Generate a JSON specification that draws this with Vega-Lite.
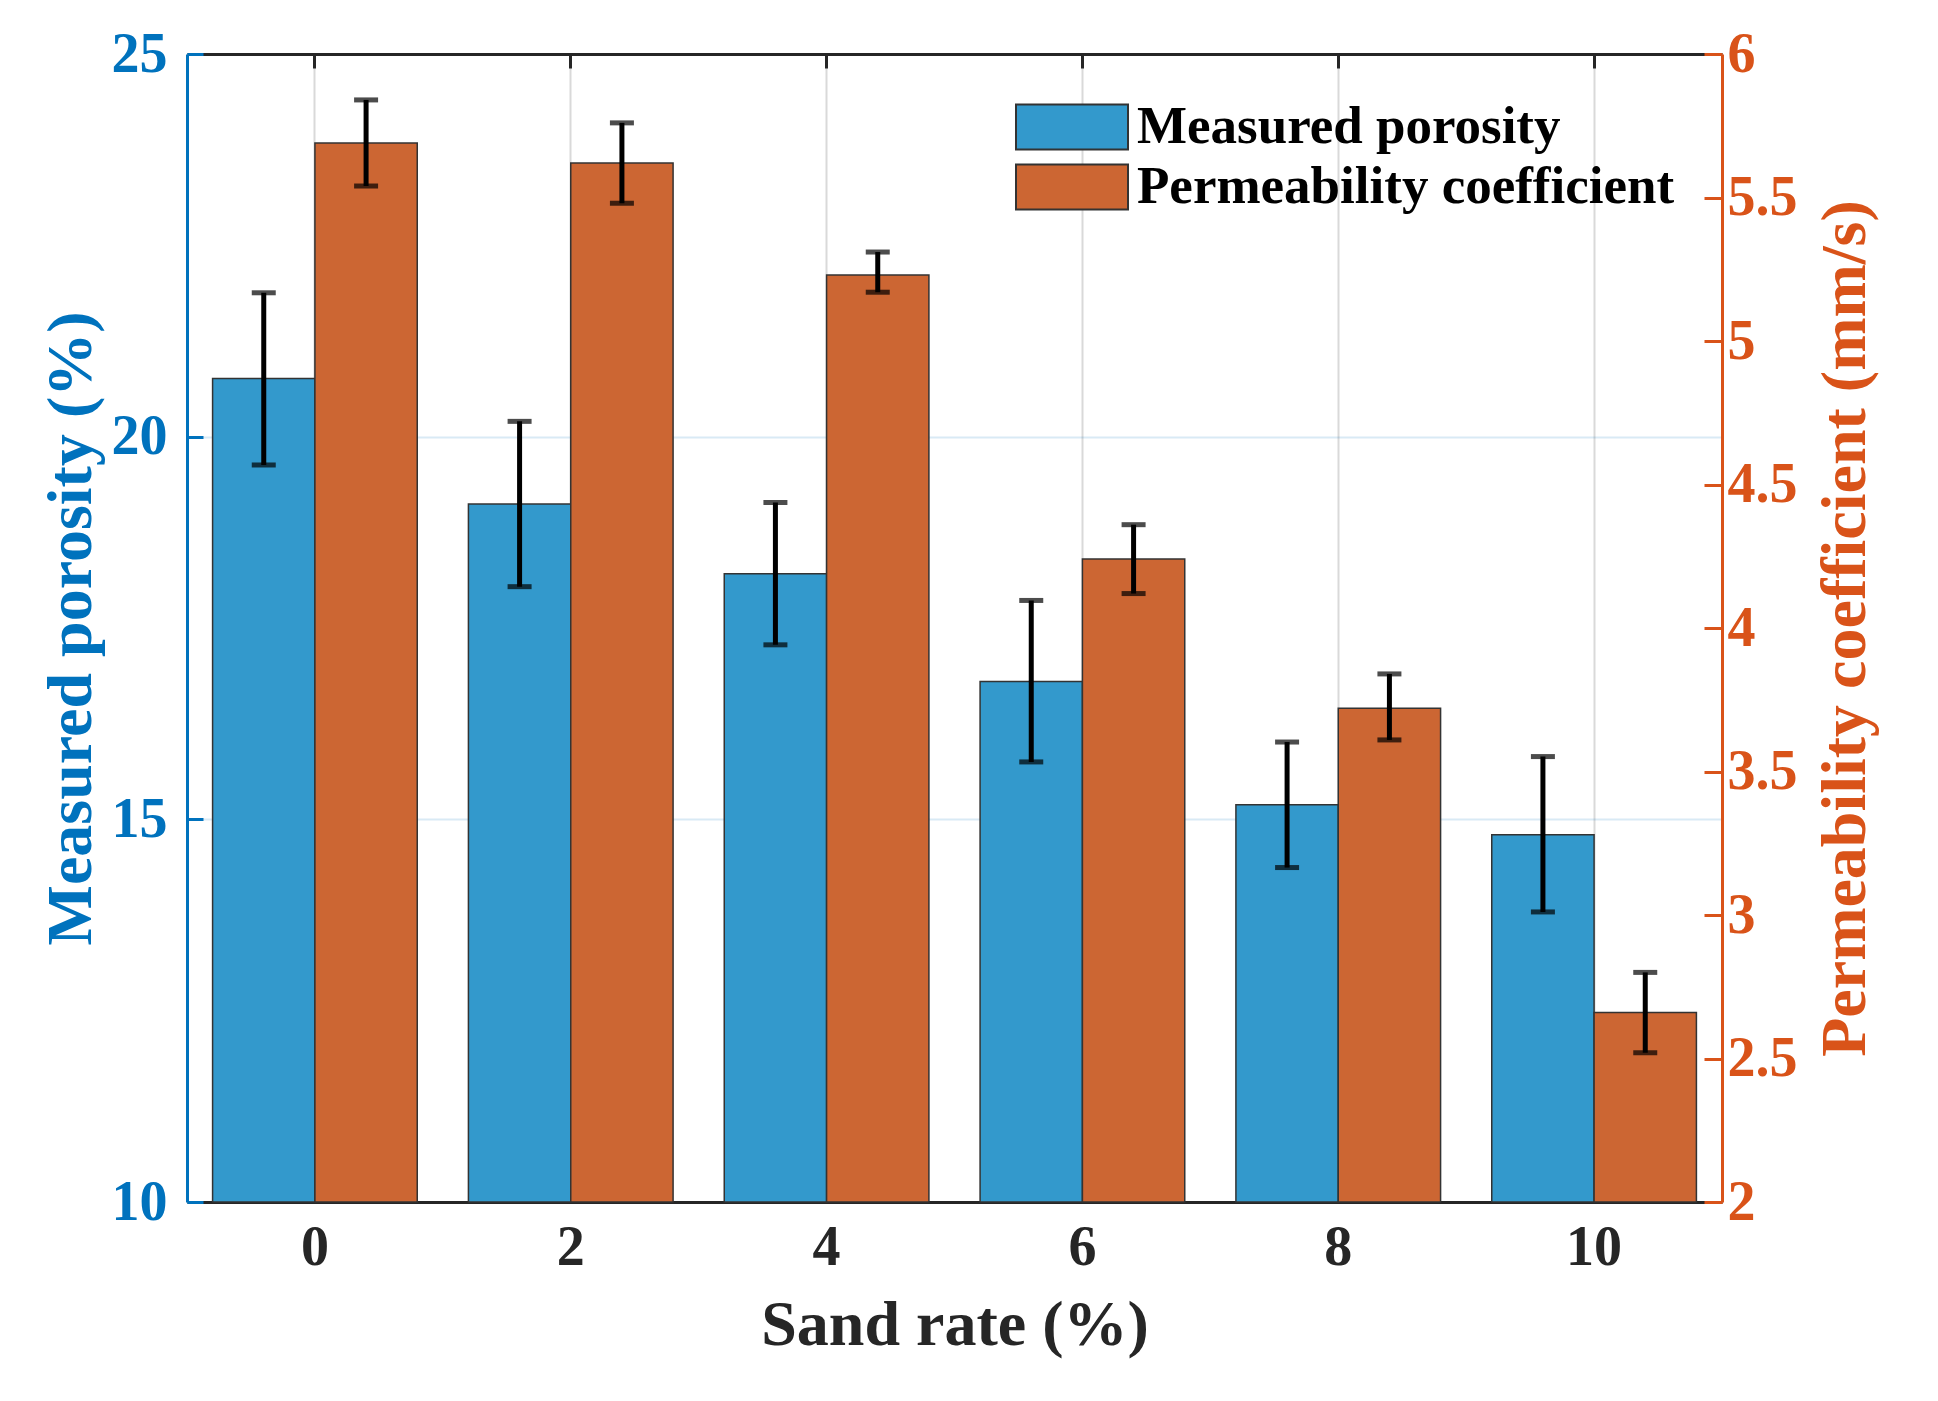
{
  "$schema": "https://vega.github.io/schema/vega-lite/v6.json",
  "autosize": {"type": "none"},
  "padding": {"left": 187, "top": 54, "right": 216, "bottom": 199},
  "width": 1535,
  "height": 1148,
  "background": "white",
  "config": {
    "view": {"stroke": null},
    "font": "Liberation Serif",
    "axis": {"labelFont": "Liberation Serif", "titleFont": "Liberation Serif", "labelFontWeight": "bold", "titleFontWeight": "bold"}
  },
  "datasets": {
    "porosity": [
      {"rate": 0, "series": "Measured porosity", "value": 20.76, "lo": 19.63, "hi": 21.88},
      {"rate": 2, "series": "Measured porosity", "value": 19.12, "lo": 18.04, "hi": 20.20},
      {"rate": 4, "series": "Measured porosity", "value": 18.21, "lo": 17.28, "hi": 19.14},
      {"rate": 6, "series": "Measured porosity", "value": 16.80, "lo": 15.75, "hi": 17.86},
      {"rate": 8, "series": "Measured porosity", "value": 15.19, "lo": 14.37, "hi": 16.01},
      {"rate": 10, "series": "Measured porosity", "value": 14.80, "lo": 13.79, "hi": 15.82}
    ],
    "perm": [
      {"rate": 0, "series": "Permeability coefficient", "value": 5.69, "lo": 5.54, "hi": 5.84},
      {"rate": 2, "series": "Permeability coefficient", "value": 5.62, "lo": 5.48, "hi": 5.76},
      {"rate": 4, "series": "Permeability coefficient", "value": 5.23, "lo": 5.17, "hi": 5.31},
      {"rate": 6, "series": "Permeability coefficient", "value": 4.24, "lo": 4.12, "hi": 4.36},
      {"rate": 8, "series": "Permeability coefficient", "value": 3.72, "lo": 3.61, "hi": 3.84},
      {"rate": 10, "series": "Permeability coefficient", "value": 2.66, "lo": 2.52, "hi": 2.80}
    ]
  },
  "encoding": {
    "x": {
      "field": "rate", "type": "ordinal",
      "scale": {"domain": [0, 2, 4, 6, 8, 10], "paddingInner": 0.2, "paddingOuter": 0.1}
    },
    "xOffset": {
      "field": "series", "type": "nominal",
      "scale": {"domain": ["Measured porosity", "Permeability coefficient"], "paddingInner": 0, "paddingOuter": 0}
    }
  },
  "layer": [
    {
      "data": {"name": "porosity"},
      "encoding": {
        "x": {
          "field": "rate", "type": "ordinal",
          "axis": {
            "orient": "bottom", "title": "Sand rate (%)", "labelAngle": 0, "bandPosition": 0.5,
            "labelFontSize": 56, "labelColor": "#262626", "labelPadding": 32,
            "titleFontSize": 64, "titleColor": "#262626", "titlePadding": 18,
            "domainColor": "#262626", "domainWidth": 3,
            "tickColor": "#262626", "tickWidth": 3, "tickSize": -14,
            "grid": true, "gridColor": "#000000", "gridOpacity": 0.15, "gridWidth": 2
          }
        }
      },
      "layer": [
        {
          "mark": {"type": "bar", "stroke": "#333333", "strokeWidth": 1.5},
          "encoding": {
            "y": {
              "field": "value", "type": "quantitative",
              "scale": {"domain": [10, 25], "nice": false, "zero": false},
              "axis": {
                "orient": "left", "values": [10, 15, 20, 25], "format": "~g", "title": "Measured porosity (%)",
                "labelFontSize": 56, "labelColor": "#0072BD", "labelPadding": 36,
                "titleFontSize": 64, "titleColor": "#0072BD", "titlePadding": 8,
                "domainColor": "#0072BD", "domainWidth": 3,
                "tickColor": "#0072BD", "tickWidth": 3, "tickSize": -16,
                "grid": true, "gridColor": "#0072BD", "gridOpacity": 0.15, "gridWidth": 2
              }
            },
            "y2": {"datum": 10},
            "color": {
              "field": "series", "type": "nominal",
              "scale": {"domain": ["Measured porosity", "Permeability coefficient"], "range": ["#3399CC", "#CC6633"]},
              "legend": {
                "orient": "none", "legendX": 856, "legendY": 44, "title": null, "padding": 0,
                "symbolType": "M-2,-0.8H2V0.8H-2Z", "symbolSize": 3136,
                "symbolStrokeColor": "#333333", "symbolStrokeWidth": 2,
                "labelFont": "Liberation Serif", "labelFontWeight": "bold", "labelFontSize": 53,
                "labelColor": "#000000", "labelOffset": 36, "labelLimit": 1000, "rowPadding": 4
              }
            }
          }
        },
        {
          "mark": {"type": "rule", "color": "#000000", "strokeWidth": 5},
          "encoding": {
            "y": {"field": "lo", "type": "quantitative"},
            "y2": {"field": "hi"}
          }
        },
        {
          "mark": {"type": "tick", "color": "#000000", "thickness": 5, "size": 24, "orient": "horizontal"},
          "encoding": {"y": {"field": "lo", "type": "quantitative"}}
        },
        {
          "mark": {"type": "tick", "color": "#000000", "thickness": 5, "size": 24, "orient": "horizontal"},
          "encoding": {"y": {"field": "hi", "type": "quantitative"}}
        }
      ]
    },
    {
      "data": {"name": "perm"},
      "encoding": {
        "x": {
          "field": "rate", "type": "ordinal",
          "axis": {
            "orient": "top", "title": null, "labels": false, "bandPosition": 0.5,
            "domainColor": "#262626", "domainWidth": 3,
            "tickColor": "#262626", "tickWidth": 3, "tickSize": -14, "grid": false
          }
        }
      },
      "layer": [
        {
          "mark": {"type": "bar", "stroke": "#333333", "strokeWidth": 1.5},
          "encoding": {
            "y": {
              "field": "value", "type": "quantitative",
              "scale": {"domain": [2, 6], "nice": false, "zero": false},
              "axis": {
                "orient": "right", "values": [2, 2.5, 3, 3.5, 4, 4.5, 5, 5.5, 6], "format": "~g",
                "title": "Permeability coefficient (mm/s)", "titleAngle": 270, "titleBaseline": "top",
                "labelFontSize": 56, "labelColor": "#D95319", "labelPadding": 23,
                "titleFontSize": 64, "titleColor": "#D95319", "titlePadding": 16,
                "domainColor": "#D95319", "domainWidth": 3,
                "tickColor": "#D95319", "tickWidth": 3, "tickSize": -18, "grid": false
              }
            },
            "y2": {"datum": 2},
            "color": {"field": "series", "type": "nominal"}
          }
        },
        {
          "mark": {"type": "rule", "color": "#000000", "strokeWidth": 5},
          "encoding": {
            "y": {"field": "lo", "type": "quantitative"},
            "y2": {"field": "hi"}
          }
        },
        {
          "mark": {"type": "tick", "color": "#000000", "thickness": 5, "size": 24, "orient": "horizontal"},
          "encoding": {"y": {"field": "lo", "type": "quantitative"}}
        },
        {
          "mark": {"type": "tick", "color": "#000000", "thickness": 5, "size": 24, "orient": "horizontal"},
          "encoding": {"y": {"field": "hi", "type": "quantitative"}}
        }
      ]
    }
  ],
  "resolve": {"scale": {"y": "independent"}, "axis": {"x": "independent", "y": "independent"}}
}
